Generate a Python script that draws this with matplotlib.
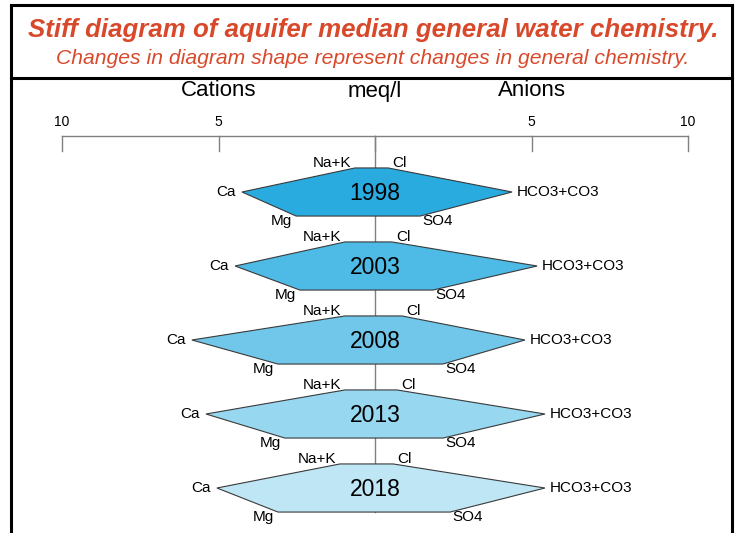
import matplotlib
matplotlib.use("Agg")
import matplotlib.pyplot as plt
from matplotlib.patches import Polygon, Rectangle
from matplotlib.lines import Line2D

plt.rcParams['font.family'] = ['Liberation Sans', 'DejaVu Sans']

# median meq/l
years = ['1998', '2003', '2008', '2013', '2018']
na_k = [0.64, 0.96, 0.96, 0.96, 1.12]
ca = [4.25, 4.47, 5.85, 5.40, 5.05]
mg = [2.52, 2.40, 3.10, 2.88, 3.10]
cl = [0.42, 0.54, 0.86, 0.70, 0.58]
hco3_co3 = [4.38, 5.18, 4.79, 5.43, 5.43]
so4 = [1.44, 1.85, 2.17, 2.17, 2.40]
fills = ['#29abe0', '#4dbbe5', '#70c7ea', '#97d7f0', '#bfe6f5']

tick_vals = [-10, -5, 0, 5, 10]
tick_labels = ['10', '5', '', '5', '10']

W, H = 738, 533
fig = plt.figure(figsize=(W / 100, H / 100), dpi=100)

# frame around the chart + title box
fig.patches.append(Rectangle((11 / W, -0.05), (732 - 11) / W, 1.05 - 5 / H,
                             transform=fig.transFigure, fill=False,
                             edgecolor='black', linewidth=2.2))
fig.lines.append(Line2D([11 / W, 732 / W], [1 - 78 / H, 1 - 78 / H],
                        transform=fig.transFigure, color='black', linewidth=2.2))

red = '#d8492b'
fig.text(373 / W, 1 - 30 / H, 'Stiff diagram of aquifer median general water chemistry.',
         ha='center', va='center', fontsize=18.6, fontweight='bold', style='italic', color=red)
fig.text(373 / W, 1 - 58 / H, 'Changes in diagram shape represent changes in general chemistry.',
         ha='center', va='center', fontsize=15.2, style='italic', color=red)

# axes: x in meq/l (cations negative), y in rows
ax = fig.add_axes([62 / W, 0, (688 - 62) / W, (H - 136) / H])
ax.set_xlim(-10, 10)
row_px = 74.0
ax.set_ylim((533 - 192) / row_px, -(192 - 136) / row_px)
ax.axis('off')

half = 0.325
gray = '#808080'

# scale bar
top = ax.get_ylim()[1]
ax.plot([-10, 10], [top, top], color=gray, lw=1, clip_on=False)
for v, lab in zip(tick_vals, tick_labels):
    ax.plot([v, v], [top, top + 15 / row_px], color=gray, lw=1, clip_on=False)
    ax.text(v, top - 14 / row_px, lab, ha='center', va='center', fontsize=10)

ax.text(-5, top - 45 / row_px, 'Cations', ha='center', va='center', fontsize=16)
ax.text(0, top - 45 / row_px, 'meq/l', ha='center', va='center', fontsize=16)
ax.text(5, top - 45 / row_px, 'Anions', ha='center', va='center', fontsize=16)

# centre line
ax.plot([0, 0], [top, len(years) - 1 + half], color=gray, lw=1, zorder=1, clip_on=False)

dx = 0.13
lab_fs = 11
for i, yr in enumerate(years):
    pts = [(-na_k[i], i - half), (cl[i], i - half), (hco3_co3[i], i),
           (so4[i], i + half), (-mg[i], i + half), (-ca[i], i)]
    ax.add_patch(Polygon(pts, closed=True, facecolor=fills[i], edgecolor='#3a3a3a',
                         linewidth=0.8, zorder=2))
    ax.text(0, i + 0.02, yr, ha='center', va='center', fontsize=16.5, zorder=3)
    ax.text(-na_k[i] - dx, i - half - 0.07, 'Na+K', ha='right', va='center', fontsize=lab_fs)
    ax.text(cl[i] + dx, i - half - 0.07, 'Cl', ha='left', va='center', fontsize=lab_fs)
    ax.text(-ca[i] - 0.2, i, 'Ca', ha='right', va='center', fontsize=lab_fs)
    ax.text(hco3_co3[i] + 0.15, i, 'HCO3+CO3', ha='left', va='center', fontsize=lab_fs)
    ax.text(-mg[i] - dx, i + half + 0.07, 'Mg', ha='right', va='center', fontsize=lab_fs)
    ax.text(so4[i] + 0.08, i + half + 0.07, 'SO4', ha='left', va='center', fontsize=lab_fs)

fig.savefig('out.png', dpi=100)
